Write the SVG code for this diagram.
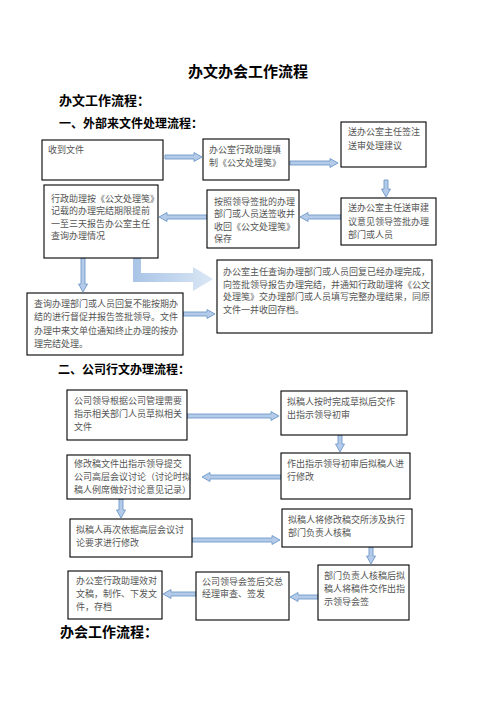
<svg xmlns="http://www.w3.org/2000/svg" width="496" height="702" viewBox="0 0 496 702">
<defs>
<style>
.box{fill:#fff;stroke:#000;stroke-width:1.1}
.t{font-family:"Noto Sans CJK SC","Noto Sans CJK JP",sans-serif;font-size:9px;fill:#555}
.h{font-family:"Noto Sans CJK SC","Noto Sans CJK JP",sans-serif;font-weight:bold;fill:#000}
.ar{fill:#b3cbe8;stroke:#6f98c8;stroke-width:0.9}
</style>
<linearGradient id="g" x1="0" y1="0" x2="1" y2="0">
<stop offset="0" stop-color="#a9c4e6"/>
<stop offset="1" stop-color="#dbe7f5"/>
</linearGradient>
</defs>
<rect width="496" height="702" fill="#fff"/>
<text class="h" x="248" y="77" font-size="15" text-anchor="middle">办文办会工作流程</text>
<text class="h" x="59" y="105" font-size="13">办文工作流程：</text>
<text class="h" x="59" y="128" font-size="12">一、外部来文件处理流程：</text>
<text class="h" x="58" y="374" font-size="12">二、公司行文办理流程：</text>
<text class="h" x="60" y="637" font-size="14">办会工作流程：</text>

<g id="connectors">
<polygon class="ar" points="165,155 194,155 194,152.5 202,157 194,161.5 194,159 165,159"/>
<polygon class="ar" points="290,161 330,161 330,158.5 338,163 330,167.5 330,165 290,165"/>
<polygon class="ar" points="384,180 384,189 381.5,189 386,197 390.5,189 388,189 388,180"/>
<polygon class="ar" points="341,215 308,215 308,212.5 300,217 308,221.5 308,219 341,219"/>
<polygon class="ar" points="207,215 167,215 167,212.5 159,217 167,221.5 167,219 207,219"/>
<polygon class="ar" points="81,258 81,284 78.5,284 83,292 87.5,284 85,284 85,258"/>
<polygon class="ar" points="183,312 207,312 207,309.5 215,314 207,318.5 207,316 183,316"/>
<polygon fill="url(#g)" points="133,258 141,258 141,273 193,273 193,267 213,279 193,291 193,282 133,282"/>
<polygon class="ar" points="187,414 271,414 271,411.5 279,416 271,420.5 271,418 187,418"/>
<polygon class="ar" points="338,435 338,444 335.5,444 340,452 344.5,444 342,444 342,435"/>
<polygon class="ar" points="281,475 210,475 210,472.5 202,477 210,481.5 210,479 281,479"/>
<polygon class="ar" points="119,499 119,510 116.5,510 121,518 125.5,510 123,510 123,499"/>
<polygon class="ar" points="192,538 272,538 272,535.5 280,540 272,544.5 272,542 192,542"/>
<polygon class="ar" points="369,547 369,556 366.5,556 371,564 375.5,556 373,556 373,547"/>
<polygon class="ar" points="318,595 298,595 298,592.5 290,597 298,601.5 298,599 318,599"/>
<polygon class="ar" points="196,592 171,592 171,589.5 163,594 171,598.5 171,596 196,596"/>
</g>

<g id="nA"><rect class="box" x="42" y="140" width="121" height="40"/><text class="t" x="48" y="153">收到文件</text></g>
<g id="nB"><rect class="box" x="203" y="139" width="86" height="41"/><text class="t" x="209" y="153">办公室行政助理填</text><text class="t" x="209" y="166">制《公文处理笺》</text></g>
<g id="nC"><rect class="box" x="341" y="122" width="85" height="45"/><text class="t" x="348" y="134.5">送办公室主任签注</text><text class="t" x="348" y="148.5">送审处理建议</text></g>
<g id="nD"><rect class="box" x="341" y="198" width="95" height="47"/><text class="t" x="348" y="211">送办公室主任送审建</text><text class="t" x="348" y="224.5">议意见领导签批办理</text><text class="t" x="348" y="238">部门或人员</text></g>
<g id="nE"><rect class="box" x="207" y="190" width="92" height="58"/><text class="t" x="214" y="204.5">按照领导签批的办理</text><text class="t" x="214" y="217">部门或人员送签收并</text><text class="t" x="214" y="229.5">收回《公文处理笺》</text><text class="t" x="214" y="242">保存</text></g>
<g id="nF"><rect class="box" x="44" y="185" width="114" height="73"/><text class="t" x="51" y="201.5">行政助理按《公文处理笺》</text><text class="t" x="51" y="214">记载的办理完结期限提前</text><text class="t" x="51" y="226.5">一至三天报告办公室主任</text><text class="t" x="51" y="239">查询办理情况</text></g>
<g id="nG"><rect class="box" x="27" y="293" width="156" height="62"/><text class="t" x="34" y="306.5">查询办理部门或人员回复不能按期办</text><text class="t" x="34" y="320">结的进行督促并报告签批领导。文件</text><text class="t" x="34" y="333.5">办理中来文单位通知终止办理的按办</text><text class="t" x="34" y="347">理完结处理。</text></g>
<g id="nH"><rect class="box" x="217" y="260" width="215" height="73"/><text class="t" x="223" y="275">办公室主任查询办理部门或人员回复已经办理完成，</text><text class="t" x="223" y="287.5">向签批领导报告办理完结，并通知行政助理将《公文</text><text class="t" x="223" y="300">处理笺》交办理部门或人员填写完整办理结果，同原</text><text class="t" x="223" y="312.5">文件一并收回存档。</text></g>

<g id="n1"><rect class="box" x="67" y="390" width="120" height="50"/><text class="t" x="74" y="403.5">公司领导根据公司管理需要</text><text class="t" x="74" y="416.5">指示相关部门人员草拟相关</text><text class="t" x="74" y="429.5">文件</text></g>
<g id="n2"><rect class="box" x="281" y="391" width="126" height="44"/><text class="t" x="287" y="404.5">拟稿人按时完成草拟后交作</text><text class="t" x="287" y="417.5">出指示领导初审</text></g>
<g id="n3"><rect class="box" x="281" y="453" width="129" height="46"/><text class="t" x="287" y="466.5">作出指示领导初审后拟稿人进</text><text class="t" x="287" y="479.5">行修改</text></g>
<g id="n4"><rect class="box" x="67" y="455" width="123" height="44"/><text class="t" x="74" y="466.5">修改稿文件出指示领导提交</text><text class="t" x="74" y="480">公司高层会议讨论（讨论时拟</text><text class="t" x="74" y="493">稿人例席做好讨论意见记录）</text></g>
<g id="n5"><rect class="box" x="70" y="519" width="122" height="38"/><text class="t" x="76" y="532.5">拟稿人再次依据高层会议讨</text><text class="t" x="76" y="545.5">论要求进行修改</text></g>
<g id="n6"><rect class="box" x="282" y="509" width="130" height="38"/><text class="t" x="288" y="522.5">拟稿人将修改稿交所涉及执行</text><text class="t" x="288" y="535.5">部门负责人核稿</text></g>
<g id="n7"><rect class="box" x="318" y="565" width="91" height="55"/><text class="t" x="324" y="578.5">部门负责人核稿后拟</text><text class="t" x="324" y="591.5">稿人将稿件交作出指</text><text class="t" x="324" y="605">示领导会签</text></g>
<g id="n8"><rect class="box" x="196" y="572" width="93" height="48"/><text class="t" x="202" y="584.5">公司领导会签后交总</text><text class="t" x="202" y="597">经理审查、签发</text></g>
<g id="n9"><rect class="box" x="68" y="571" width="94" height="48"/><text class="t" x="76" y="583.5">办公室行政助理效对</text><text class="t" x="76" y="596.5">文稿，制作、下发文</text><text class="t" x="76" y="609.5">件，存档</text></g>
</svg>
